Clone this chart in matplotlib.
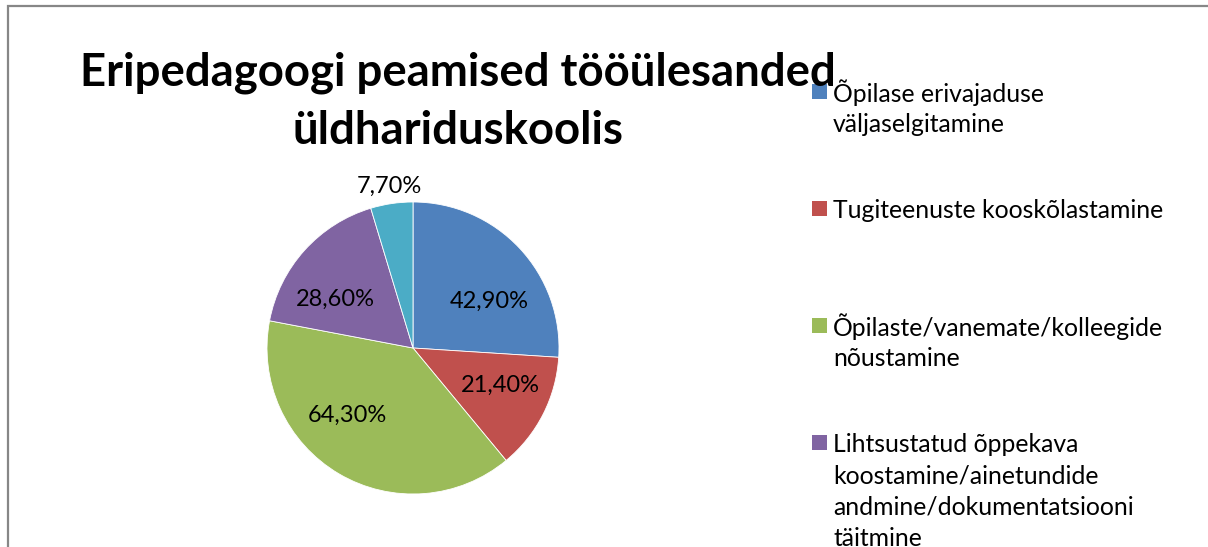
import numpy as np
import matplotlib
matplotlib.use('Agg')
import matplotlib.pyplot as plt
from matplotlib.patches import Rectangle

# chart data (the fifth legend entry lies below the visible crop)
categories = [
    "Õpilase erivajaduse\nväljaselgitamine",
    "Tugiteenuste kooskõlastamine",
    "Õpilaste/vanemate/kolleegide\nnõustamine",
    "Lihtsustatud õppekava\nkoostamine/ainetundide\nandmine/dokumentatsiooni\ntäitmine",
]
values = [42.9, 21.4, 64.3, 28.6, 7.7]
colors = ["#4F81BD", "#C0504D", "#9BBB59", "#8064A2", "#4BACC6"]
title = "Eripedagoogi peamised tööülesanded\nüldhariduskoolis"

# label offsets inside the pie (in units of radius)
label_pos = [(0.52, 0.33), (0.60, -0.24), (-0.45, -0.45), (-0.53, 0.35), (-0.16, 1.12)]

W, H = 1208, 547
fig = plt.figure(figsize=(W / 100, H / 100), dpi=100)
fig.patch.set_facecolor("white")

# chart frame (cropped on the right and bottom)
fig.patches.append(Rectangle((8 / W, -0.1), 1.2, 1 - 6 / H + 0.1, transform=fig.transFigure,
                             fill=False, edgecolor="#878787", linewidth=1.6))

font = "Lato"

# pie axes: center (413, 348), radius 146 px
cx, cy, r = 413, 348, 146
ax = fig.add_axes([(cx - r) / W, (H - cy - r) / H, 2 * r / W, 2 * r / H])
ax.pie(values, colors=colors, startangle=90, counterclock=False,
       wedgeprops=dict(edgecolor="white", linewidth=0.6))
ax.set_xlim(-1, 1)
ax.set_ylim(-1, 1)
ax.set_aspect("equal")
ax.axis("off")

for v, (x, y) in zip(values, label_pos):
    ax.text(x, y, f"{v:.2f}%".replace(".", ","), ha="center", va="center_baseline",
            fontsize=17, family=font, color="black")

# title, one line at a time
for k, line in enumerate(title.split("\n")):
    fig.text(458 / W, 1 - (68 + k * 59) / H, line, ha="center", va="center_baseline",
             fontsize=32.8, fontweight="bold", family=font)

# legend, spread evenly like the original
sq = 15
for i, (lab, col) in enumerate(zip(categories, colors)):
    yc = 91 + i * 117
    fig.patches.append(Rectangle((812 / W, 1 - (yc + sq / 2) / H), sq / W, sq / H,
                                 transform=fig.transFigure, facecolor=col, edgecolor="none"))
    for k, line in enumerate(lab.split("\n")):
        fig.text(833 / W, 1 - (yc + k * 31.5) / H, line, ha="left", va="center_baseline",
                 fontsize=17.8, family=font)

fig.savefig("out.png", dpi=100)
